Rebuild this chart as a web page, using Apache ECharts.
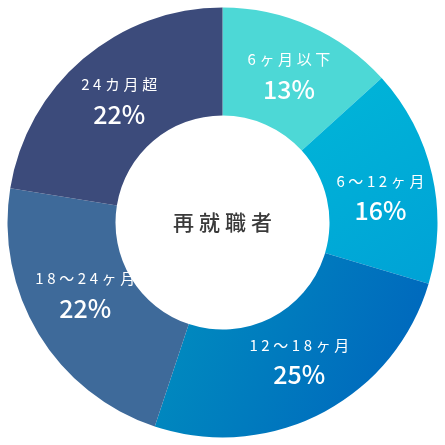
<!DOCTYPE html>
<html>
<head>
<meta charset="utf-8">
<script src="https://cdn.jsdelivr.net/npm/echarts@6/dist/echarts.min.js"></script>
<style>
  html, body { margin: 0; padding: 0; background: #fff; }
  #chart { width: 445px; height: 445px; }
</style>
</head>
<body>
<div id="chart"></div>
<script>
// データ
const categories = ['6ヶ月以下', '6〜12ヶ月', '12〜18ヶ月', '18〜24ヶ月', '24カ月超'];
const percents = [13, 16, 25, 22, 22];
const centerLabel = '再就職者';

// ラベルの微調整（見た目用）
const labelOffsets = [[0, 3], [-2, 11], [1, -7], [3, -13], [3, 3]];

const chart = echarts.init(document.getElementById('chart'));

// 各スライスの色
const colors = [
    '#4dd8d6',
    new echarts.graphic.LinearGradient(0, 0, 1, 1, [
        { offset: 0, color: '#00b6d8' },
        { offset: 1, color: '#00a2d6' }
    ]),
    new echarts.graphic.LinearGradient(0, 0, 1, 0.6, [
        { offset: 0, color: '#0090bf' },
        { offset: 1, color: '#0066bd' }
    ]),
    '#3e6a9a',
    '#3c4b7b'
];

// 文字間隔をあけるため一文字ずつリッチテキストにする
function spaced(str, style) {
    return Array.from(str).map(ch => '{' + style + '|' + ch + '}').join('');
}

const option = {
    title: {
        text: spaced(centerLabel, 'c'),
        left: 'center',
        top: 'middle',
        textStyle: {
            fontWeight: 'normal',
            rich: {
                c: {
                    fontFamily: 'Noto Sans CJK JP',
                    fontSize: 21,
                    fontWeight: 500,
                    color: '#3a3a3a',
                    padding: [0, 2.5]
                }
            }
        }
    },
    series: [
        {
            type: 'pie',
            center: ['50%', '50%'],
            radius: [107, 215],
            startAngle: 90,
            clockwise: true,
            silent: true,
            animation: false,
            label: {
                show: true,
                position: 'inside',
                color: '#fff',
                fontFamily: 'Noto Sans CJK JP',
                formatter: function (p) {
                    return spaced(p.name, 'n') + '\n{v|' + p.value + '%}';
                },
                rich: {
                    n: {
                        fontSize: 15,
                        fontFamily: 'Noto Sans CJK JP',
                        color: '#fff',
                        lineHeight: 27,
                        padding: [0, 1.8]
                    },
                    v: {
                        fontSize: 25,
                        fontFamily: 'Noto Sans CJK JP',
                        fontWeight: 500,
                        color: '#fff',
                        lineHeight: 32
                    }
                }
            },
            labelLine: { show: false },
            data: categories.map((c, i) => ({
                name: c,
                value: percents[i],
                itemStyle: { color: colors[i] },
                label: { offset: labelOffsets[i] }
            }))
        }
    ]
};
chart.setOption(option);
</script>
</body>
</html>
